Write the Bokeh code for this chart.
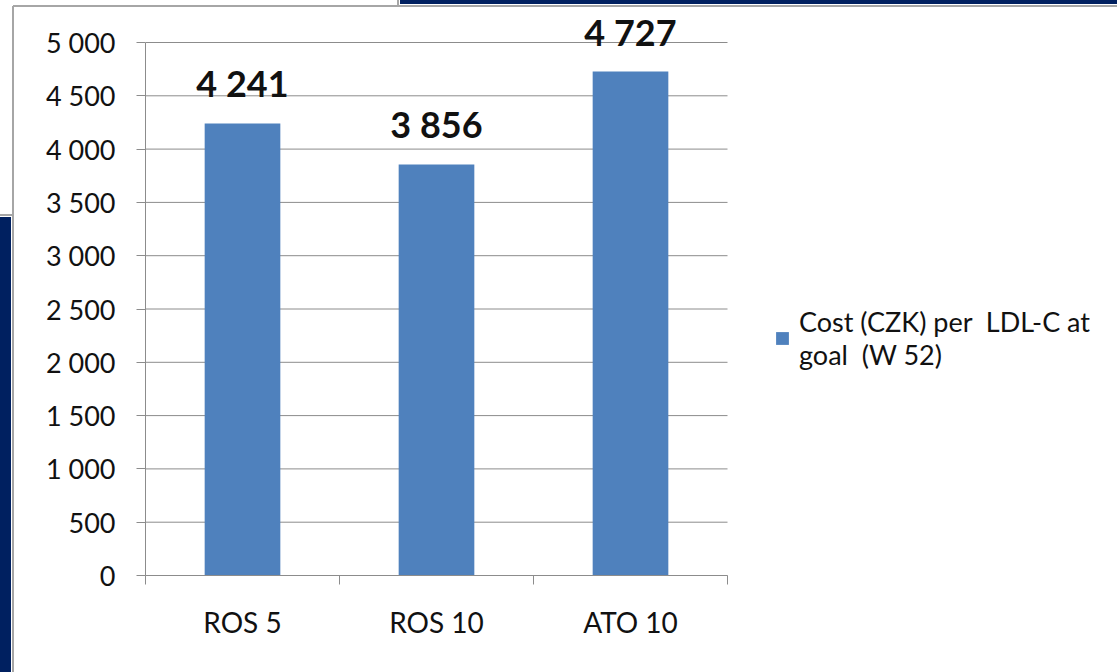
from bokeh.plotting import figure
from bokeh.models import (Range1d, FixedTicker, LabelSet, ColumnDataSource, Legend,
                          LegendItem)
from bokeh.core.properties import value
from bokeh.embed import file_html
from bokeh.resources import INLINE

categories = ["ROS 5", "ROS 10", "ATO 10"]
values = [4241, 3856, 4727]
value_labels = ["4 241", "3 856", "4 727"]
y_ticks = [0, 500, 1000, 1500, 2000, 2500, 3000, 3500, 4000, 4500, 5000]
y_tick_labels = ["0", "500", "1 000", "1 500", "2 000", "2 500", "3 000",
                 "3 500", "4 000", "4 500", "5 000"]
series_name = "Cost (CZK) per  LDL-C at\ngoal  (W 52)"

BAR = "#4F81BD"
GRAY = "#8C8C8C"
NAVY = "#002060"
FONT = "Lato"

W, H = 1117, 672
LEFT, BOTTOM = 145, 97          # frame offsets in px
AX_W, AX_H = 582, 533           # px spanned by the category axis / 0..5000
n = len(categories)
y_max = y_ticks[-1]
x_end = n * (W - LEFT) / AX_W
y_end = y_max * (H - BOTTOM) / AX_H

x_pos = [i + 0.5 for i in range(n)]
src = ColumnDataSource(dict(x=x_pos, top=values, lab=value_labels))

p = figure(width=W, height=H, output_backend="svg", toolbar_location=None,
           x_range=Range1d(0, x_end), y_range=Range1d(0, y_end),
           min_border_left=LEFT, min_border_right=0, min_border_top=0,
           min_border_bottom=BOTTOM)
p.outline_line_color = None
p.background_fill_color = None
p.border_fill_color = None
p.styles = {
    "background":
        f"linear-gradient({NAVY},{NAVY}) 400px 0px / 717px 4px no-repeat,"
        "linear-gradient(#A6A6A6,#A6A6A6) 397px 0px / 2px 5px no-repeat,"
        "linear-gradient(#A6A6A6,#A6A6A6) 13px 5px / 1104px 2px no-repeat,"
        "linear-gradient(#A6A6A6,#A6A6A6) 12px 6px / 2px 666px no-repeat,"
        f"linear-gradient({NAVY},{NAVY}) 0px 217px / 11px 455px no-repeat,"
        "linear-gradient(#A6A6A6,#A6A6A6) 0px 214px / 12px 2px no-repeat,"
        "#FFFFFF"
}

p.xgrid.grid_line_color = None
p.ygrid.grid_line_color = None

# horizontal gridlines over the category span only
p.segment(x0=[0] * len(y_ticks), x1=[n] * len(y_ticks), y0=y_ticks, y1=y_ticks,
          line_color=GRAY, line_width=1)

r = p.vbar(x="x", top="top", width=0.39, source=src, color=BAR, line_color=None)

# y axis
ya = p.yaxis[0]
ya.bounds = (0, y_max)
ya.ticker = FixedTicker(ticks=y_ticks)
ya.major_label_overrides = {t: s for t, s in zip(y_ticks, y_tick_labels)}
ya.axis_line_color = GRAY
ya.major_tick_line_color = GRAY
ya.major_tick_in = 0
ya.major_tick_out = 9
ya.minor_tick_line_color = None
ya.major_label_standoff = 21
ya.major_label_text_font = FONT
ya.major_label_text_font_size = "27px"
ya.major_label_text_color = "#111111"

# x axis
xa = p.xaxis[0]
xa.bounds = (0, n)
xa.ticker = FixedTicker(ticks=x_pos, minor_ticks=list(range(n + 1)))
xa.major_label_overrides = {x: c for x, c in zip(x_pos, categories)}
xa.axis_line_color = GRAY
xa.major_tick_line_color = None
xa.major_tick_in = 0
xa.major_tick_out = 0
xa.minor_tick_line_color = GRAY
xa.minor_tick_in = 0
xa.minor_tick_out = 9
xa.major_label_standoff = 20
xa.major_label_text_font = FONT
xa.major_label_text_font_size = "28px"
xa.major_label_text_color = "#111111"

labels = LabelSet(x="x", y="top", text="lab", source=src, y_offset=26,
                  text_align="center", text_baseline="alphabetic",
                  text_font=value(FONT), text_font_style="bold",
                  text_font_size="36px", text_color="#111111")
p.add_layout(labels)

legend = Legend(items=[LegendItem(label=series_name, renderers=[r])],
                location=(629, 204), orientation="vertical",
                label_text_font=FONT, label_text_font_size="27px",
                label_text_color="#111111", glyph_width=16, glyph_height=16,
                padding=0, margin=0, spacing=0, label_standoff=9,
                label_text_line_height=1.25,
                border_line_color=None, background_fill_alpha=0)
p.add_layout(legend, "center")

open("out.html", "w").write(file_html(p, INLINE))
